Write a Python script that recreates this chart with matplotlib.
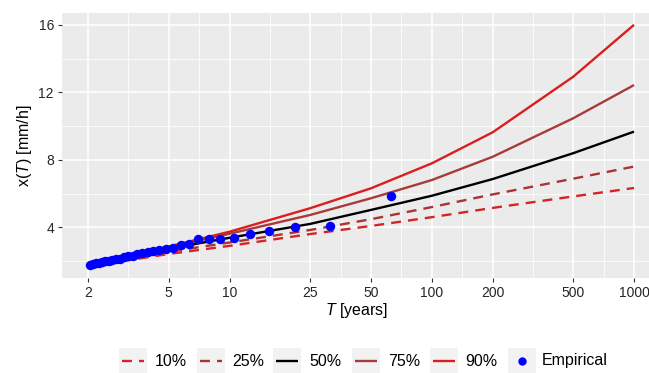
import matplotlib
matplotlib.use("Agg")
import matplotlib.pyplot as plt
from matplotlib.lines import Line2D
from matplotlib.patches import Rectangle

plt.rcParams['font.family'] = ['Liberation Sans', 'DejaVu Sans']
plt.rcParams['mathtext.fontset'] = 'custom'
plt.rcParams['mathtext.rm'] = 'Liberation Sans'
plt.rcParams['mathtext.it'] = 'Liberation Sans:italic'

# ---------------- data ----------------
T_q = [2, 5, 10, 25, 50, 100, 200, 500, 1000]
q10 = [1.68, 2.42, 2.90, 3.60, 4.08, 4.60, 5.15, 5.83, 6.33]
q25 = [1.72, 2.55, 3.10, 3.84, 4.48, 5.20, 5.95, 6.88, 7.60]
q50 = [1.78, 2.73, 3.38, 4.20, 5.03, 5.87, 6.86, 8.39, 9.67]
q75 = [1.80, 2.80, 3.62, 4.73, 5.72, 6.80, 8.18, 10.46, 12.43]
q90 = [1.82, 2.86, 3.74, 5.13, 6.31, 7.79, 9.63, 12.92, 16.00]

emp_T = [63.0, 31.5, 21.0, 15.75, 12.6, 10.5, 9.0, 7.875, 7.0, 6.3, 5.727,
         5.25, 4.846, 4.5, 4.2, 3.938, 3.706, 3.5, 3.316, 3.15, 3.0, 2.864,
         2.739, 2.625, 2.52, 2.423, 2.333, 2.25, 2.172, 2.1, 2.032]
emp_x = [5.87, 4.10, 4.00, 3.80, 3.60, 3.34, 3.33, 3.32, 3.30, 3.00, 2.93,
         2.76, 2.70, 2.64, 2.58, 2.52, 2.46, 2.40, 2.32, 2.28, 2.22, 2.14,
         2.10, 2.06, 2.02, 1.98, 1.94, 1.90, 1.86, 1.82, 1.78]

x_ticks = [2, 5, 10, 25, 50, 100, 200, 500, 1000]
x_minor = [3.162, 7.071, 15.81, 35.36, 70.71, 141.4, 316.2, 707.1]
y_ticks = [4, 8, 12, 16]
y_minor = [2, 6, 10, 14]

labels = ['10%', '25%', '50%', '75%', '90%']
series = [q10, q25, q50, q75, q90]
colors = ['#d42424', '#a83434', '#000000', '#a83a3a', '#da1e1e']
dashed = [True, True, False, False, False]

# ---------------- figure ----------------
W, H = 649, 373
fig = plt.figure(figsize=(W / 100, H / 100), dpi=100)
fig.patch.set_facecolor('white')

def fx(px):
    return px / W

def fy(py):
    return 1 - py / H

L, R, TOP, BOT = 62, 649, 13, 278
ax = fig.add_axes([fx(L), fy(BOT), (R - L) / W, (BOT - TOP) / H])
ax.set_facecolor('#ebebeb')
ax.set_xscale('log')
ax.set_xlim(1.483, 1186)
ax.set_ylim(0.996, 16.70)
for s in ax.spines.values():
    s.set_visible(False)

ax.set_xticks(x_ticks)
ax.set_xticklabels([str(t) for t in x_ticks])
ax.set_xticks(x_minor, minor=True)
ax.set_xticklabels([], minor=True)
ax.set_yticks(y_ticks)
ax.set_yticklabels([str(t) for t in y_ticks])
ax.set_yticks(y_minor, minor=True)
ax.set_yticklabels([], minor=True)
ax.tick_params(which='major', length=2.8, width=0.8, color='#333333',
               labelsize=10, labelcolor='#262626', pad=3)
ax.tick_params(which='minor', length=0)
ax.grid(which='major', color='white', lw=1.1)
ax.grid(which='minor', color='white', lw=0.55)
ax.set_axisbelow(True)

lw = 1.7
dash = (4.2, 3.0)
for lab, ys, c, d in zip(labels, series, colors, dashed):
    ln, = ax.plot(T_q, ys, color=c, lw=lw, solid_capstyle='butt', zorder=3)
    if d:
        ln.set_dashes(dash)
        ln.set_dash_capstyle('butt')

ax.plot(emp_T, emp_x, 'o', color='#0000ff', ms=6.8, mec='none', zorder=5)

fig.text(fx(357), fy(311), r'$\mathit{T}$ [years]', ha='center', va='center',
         fontsize=11.5, color='black')
fig.text(fx(25), fy(145.5), r'x($\mathit{T}$) [mm/h]', ha='center', va='center',
         rotation=90, fontsize=11.5, color='black')

# ---------------- legend (ggplot style, bottom) ----------------
key_left = [119, 197, 273, 352, 430, 508]
text_left = [155, 232, 309, 388, 465, 542]
ky = 361
kw, kh = 28, 25
for i in range(6):
    fig.add_artist(Rectangle((fx(key_left[i]), fy(ky + kh / 2)), kw / W, kh / H,
                             transform=fig.transFigure, facecolor='#f2f2f2',
                             edgecolor='none'))
    if i < 5:
        ln = Line2D([fx(key_left[i] + 3), fx(key_left[i] + kw - 3)], [fy(ky), fy(ky)],
                    transform=fig.transFigure, color=colors[i], lw=lw,
                    solid_capstyle='butt')
        if dashed[i]:
            ln.set_dashes(dash)
            ln.set_dash_capstyle('butt')
        fig.add_artist(ln)
        fig.text(fx(text_left[i]), fy(ky), labels[i], ha='left', va='center',
                 fontsize=11.5)
    else:
        fig.add_artist(Line2D([fx(key_left[i] + kw / 2)], [fy(ky)], marker='o',
                              transform=fig.transFigure, color='#0000ff',
                              ms=6, mec='none', lw=0))
        fig.text(fx(text_left[i]), fy(ky), 'Empirical', ha='left', va='center',
                 fontsize=11.5)

fig.savefig('out.png', dpi=100)
